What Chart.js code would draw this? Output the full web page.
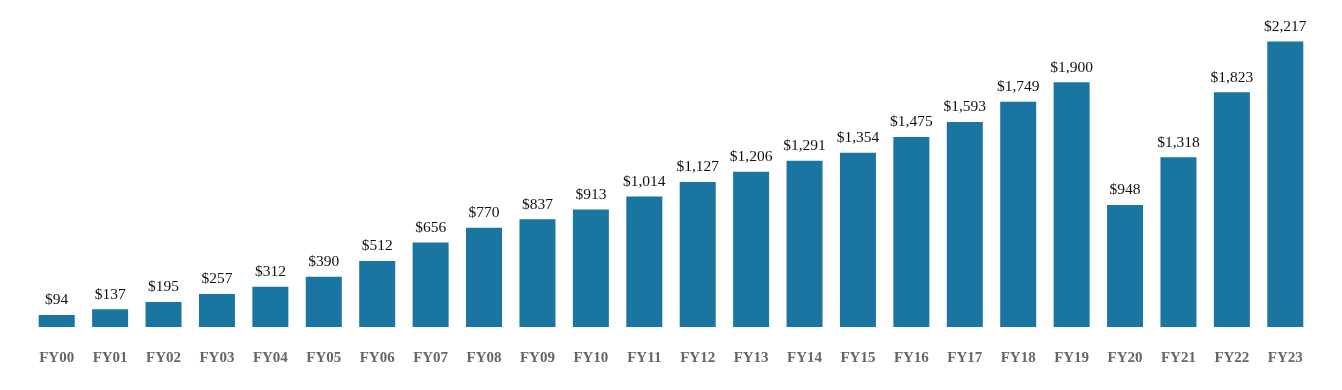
<!DOCTYPE html>
<html>
<head>
<meta charset="utf-8">
<script src="https://cdn.jsdelivr.net/npm/chart.js@4/dist/chart.umd.min.js"></script>
<style>
  html, body { margin: 0; padding: 0; background: #fff; }
  #wrap { width: 1342px; height: 390px; }
</style>
</head>
<body>
<div id="wrap"><canvas id="chart" width="1342" height="390"></canvas></div>
<script>
const years = ["FY00", "FY01", "FY02", "FY03", "FY04", "FY05", "FY06", "FY07", "FY08", "FY09", "FY10", "FY11",
  "FY12", "FY13", "FY14", "FY15", "FY16", "FY17", "FY18", "FY19", "FY20", "FY21", "FY22", "FY23"];
const amounts = [94, 137, 195, 257, 312, 390, 512, 656, 770, 837, 913, 1014,
  1127, 1206, 1291, 1354, 1475, 1593, 1749, 1900, 948, 1318, 1823, 2217];

const barLabels = {
  id: "barLabels",
  afterDatasetsDraw(chart) {
    const ctx = chart.ctx;
    const meta = chart.getDatasetMeta(0);
    ctx.save();
    ctx.font = "15.5px 'Liberation Serif', 'Times New Roman', serif";
    ctx.fillStyle = "#111";
    ctx.textAlign = "center";
    ctx.textBaseline = "bottom";
    meta.data.forEach((bar, i) => {
      ctx.fillText("$" + amounts[i].toLocaleString("en-US"), bar.x, bar.y - 7);
    });
    ctx.restore();
  }
};

new Chart(document.getElementById("chart"), {
  type: "bar",
  data: {
    labels: years,
    datasets: [{
      data: amounts,
      backgroundColor: "#1a75a0",
      barPercentage: 0.674,
      categoryPercentage: 1.0
    }]
  },
  options: {
    responsive: false,
    animation: false,
    layout: { padding: { left: 30, right: 30, top: 10, bottom: 9 } },
    plugins: { legend: { display: false }, tooltip: { enabled: false } },
    scales: {
      x: {
        grid: { display: false },
        border: { display: false },
        ticks: {
          color: "#666",
          padding: 14,
          font: { family: "'Liberation Serif', 'Times New Roman', serif", size: 15, weight: "bold" }
        }
      },
      y: {
        display: false,
        min: 0,
        max: 2462
      }
    }
  },
  plugins: [barLabels]
});
</script>
</body>
</html>
